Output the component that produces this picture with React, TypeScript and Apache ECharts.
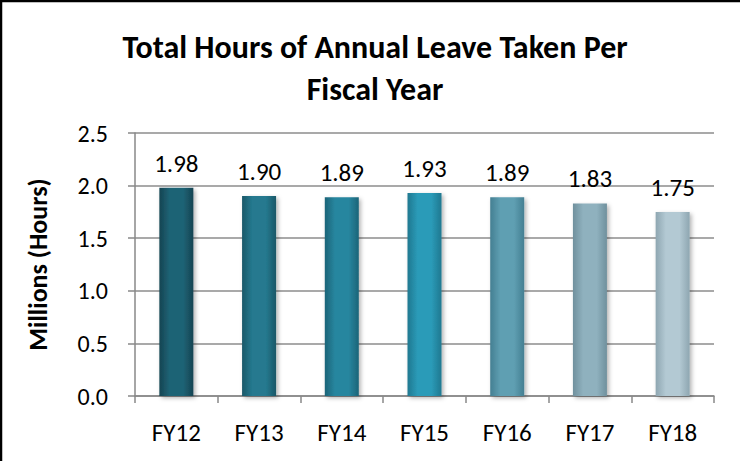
import React, { useEffect, useRef } from "react";
import * as echarts from "echarts";

const categories = ["FY12", "FY13", "FY14", "FY15", "FY16", "FY17", "FY18"];
const values = [1.98, 1.9, 1.89, 1.93, 1.89, 1.83, 1.75];
const barBase = ["#1f6375", "#25798f", "#27869f", "#2b9bb8", "#5f9fb2", "#8fb1be", "#b3c9d3"];
const barEdge = ["#154452", "#1a5868", "#1c6478", "#1f7890", "#447f92", "#6f909d", "#8ea6b1"];
const yTicks = [0, 0.5, 1.0, 1.5, 2.0, 2.5];

const FONT = "Carlito, Lato, 'Open Sans', sans-serif";

export default function App() {
  const ref = useRef<HTMLDivElement>(null);
  useEffect(() => {
    if (!ref.current) return;
    const chart = echarts.init(ref.current, null, { renderer: "svg" });
    chart.setOption({
      animation: false,
      backgroundColor: "#ffffff",
      title: {
        text: "Total Hours of Annual Leave Taken Per\nFiscal Year",
        left: 370,
        top: 21,
        textAlign: "center",
        textStyle: {
          fontFamily: FONT,
          fontWeight: "bold",
          fontSize: 32,
          lineHeight: 42,
          color: "#000",
        },
      },
      graphic: [
        { type: "line", shape: { x1: 0, y1: 1, x2: 740, y2: 1 }, style: { stroke: "#000", lineWidth: 2.5 } },
        { type: "line", shape: { x1: 1, y1: 0, x2: 1, y2: 461 }, style: { stroke: "#000", lineWidth: 2.5 } },
      ],
      grid: { left: 135, right: 26, top: 133, bottom: 65 },
      xAxis: {
        type: "category",
        data: categories,
        axisLine: { lineStyle: { color: "#888", width: 1.5 } },
        axisTick: { show: true, length: 7, lineStyle: { color: "#888", width: 1.5 } },
        axisLabel: { fontFamily: FONT, fontSize: 25, color: "#000", margin: 24 },
      },
      yAxis: {
        type: "value",
        min: yTicks[0],
        max: yTicks[yTicks.length - 1],
        interval: 0.5,
        name: "Millions (Hours)",
        nameLocation: "middle",
        nameGap: 84,
        nameTextStyle: { fontFamily: FONT, fontWeight: "bold", fontSize: 26, color: "#000" },
        axisLine: { show: true, lineStyle: { color: "#888", width: 1.5 } },
        axisTick: { show: true, length: 7, lineStyle: { color: "#888", width: 1.5 } },
        axisLabel: {
          fontFamily: FONT,
          fontSize: 24,
          color: "#000",
          margin: 27,
          formatter: (v: number) => v.toFixed(1),
        },
        splitLine: { show: true, lineStyle: { color: "#8c8c8c", width: 1.5 } },
      },
      series: [
        {
          type: "bar",
          barWidth: 34,
          data: values.map((v, i) => ({
            value: v,
            itemStyle: {
              color: new echarts.graphic.LinearGradient(0, 0, 1, 0, [
                { offset: 0, color: barEdge[i] },
                { offset: 0.3, color: barBase[i] },
                { offset: 0.7, color: barBase[i] },
                { offset: 1, color: barEdge[i] },
              ]),
              shadowBlur: 4,
              shadowColor: "rgba(0,0,0,0.3)",
              shadowOffsetX: 2,
              shadowOffsetY: 2,
            },
          })),
          label: {
            show: true,
            position: "top",
            distance: 12,
            fontFamily: FONT,
            fontSize: 25,
            color: "#000",
            formatter: (p: any) => Number(p.value).toFixed(2),
          },
        },
      ],
    });
    return () => chart.dispose();
  }, []);
  return (
    <div
      ref={ref}
      style={{ position: "fixed", left: 0, top: 0, width: 740, height: 461 }}
    />
  );
}
